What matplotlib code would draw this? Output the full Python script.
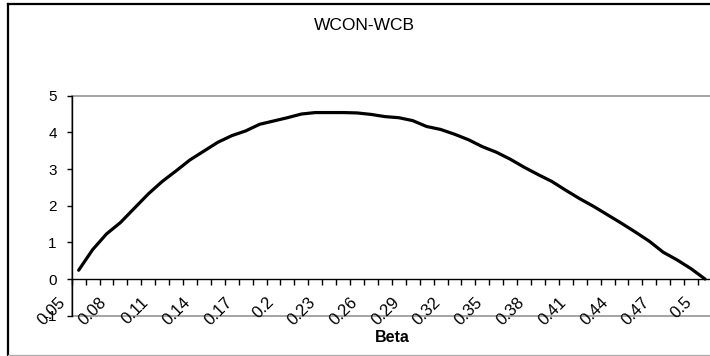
import matplotlib
matplotlib.use("Agg")
import matplotlib.pyplot as plt
from matplotlib.lines import Line2D
from matplotlib.transforms import ScaledTranslation

plt.rcParams["font.family"] = ["Liberation Sans", "DejaVu Sans"]
plt.rcParams["axes.unicode_minus"] = False

# Beta categories (0.05 .. 0.50) and the WCON-WCB series
beta = ["0.05", "0.06", "0.07", "0.08", "0.09", "0.1", "0.11", "0.12", "0.13", "0.14",
        "0.15", "0.16", "0.17", "0.18", "0.19", "0.2", "0.21", "0.22", "0.23", "0.24",
        "0.25", "0.26", "0.27", "0.28", "0.29", "0.3", "0.31", "0.32", "0.33", "0.34",
        "0.35", "0.36", "0.37", "0.38", "0.39", "0.4", "0.41", "0.42", "0.43", "0.44",
        "0.45", "0.46", "0.47", "0.48", "0.49", "0.5"]
wcon_wcb = [0.24, 0.80, 1.23, 1.54, 1.93, 2.32, 2.66, 2.95, 3.25, 3.49,
            3.73, 3.91, 4.04, 4.22, 4.31, 4.40, 4.50, 4.54, 4.54, 4.54,
            4.53, 4.49, 4.43, 4.40, 4.32, 4.16, 4.08, 3.95, 3.80, 3.61,
            3.46, 3.27, 3.05, 2.85, 2.66, 2.42, 2.19, 1.98, 1.75, 1.52,
            1.28, 1.03, 0.73, 0.52, 0.28, 0.00]
y_ticks = [-1, 0, 1, 2, 3, 4, 5]
label_step = 3

W, H = 710, 356
fig = plt.figure(figsize=(W / 100, H / 100), dpi=100)

# plot area in pixel terms (it runs slightly past the right edge of the figure)
left, right, top, bottom = 71.7, 712.0, 95.7, 315.7
ax = fig.add_axes([left / W, 1 - bottom / H, (right - left) / W, (bottom - top) / H])

n = len(beta)
x = list(range(n))
ax.plot(x, wcon_wcb, color="black", lw=2.3, solid_joinstyle="round",
        solid_capstyle="round", clip_on=False, zorder=5)

ax.set_xlim(-0.5, n - 0.5)
ax.set_ylim(min(y_ticks), max(y_ticks))

# plot-area frame: thin gray border, black value axis on the left
ax.patch.set_edgecolor("#8c8c8c")
ax.patch.set_linewidth(1.1)
for side in ("top", "right"):
    ax.spines[side].set_visible(False)
ax.spines["left"].set_color("black")
ax.spines["left"].set_linewidth(1.0)

# category axis crosses at 0
ax.spines["bottom"].set_position(("data", 0))
ax.spines["bottom"].set_color("black")
ax.spines["bottom"].set_linewidth(1.0)

# tick marks between categories, labels at every third category centre
ax.set_xticks([i - 0.5 for i in range(n + 1)], minor=True)
ax.tick_params(axis="x", which="minor", direction="out", length=4.2, width=1.0,
               color="black")
major = list(range(0, n, label_step))
ax.set_xticks(major)
ax.set_xticklabels([beta[i] for i in major], rotation=45, ha="right",
                   va="center", rotation_mode="anchor", fontsize=12)
ax.tick_params(axis="x", which="major", length=0, pad=15.0)
shift = ScaledTranslation(-16 / 100, 0, fig.dpi_scale_trans)
for lab in ax.get_xticklabels():
    lab.set_transform(lab.get_transform() + shift)
    lab.set_zorder(6)

ax.set_yticks(y_ticks)
ax.set_yticklabels([str(v) for v in y_ticks], fontsize=11)
ax.tick_params(axis="y", direction="out", length=3.8, width=1.0, pad=7.0)

fig.text(364 / W, 1 - 25.7 / H, "WCON-WCB", ha="center", va="center", fontsize=12.5)
fig.text(392 / W, 1 - 337 / H, "Beta", ha="center", va="center",
         fontsize=11.5, fontweight="bold")

# chart border (left and top black, bottom light gray)
px = fig.transFigure
fig.add_artist(Line2D([8.3 / W, 8.3 / W], [1 - 4.2 / H, 0.0], color="black", lw=1.6,
                      transform=px))
fig.add_artist(Line2D([7.5 / W, 1.0], [1 - 4.2 / H, 1 - 4.2 / H], color="black", lw=1.6,
                      transform=px))
fig.add_artist(Line2D([8.3 / W, 1.0], [0.6 / H, 0.6 / H], color="#b0b0b0", lw=1.0,
                      transform=px))

fig.savefig("out.png", dpi=100)
